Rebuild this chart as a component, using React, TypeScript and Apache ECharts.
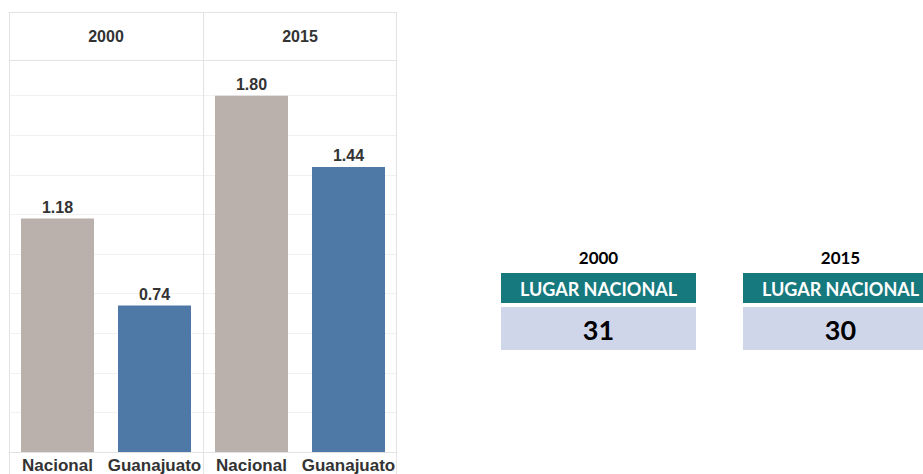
import React, { useEffect, useRef } from "react";
import * as echarts from "echarts";

const years = ["2000", "2015"];
const categories = ["Nacional", "Guanajuato"];
const values2000 = [1.18, 0.74];
const values2015 = [1.8, 1.44];
const rankLabel = "LUGAR NACIONAL";
const ranks = [31, 30];

const barColors = ["#bab0ac", "#4e79a7"];
const lineColor = "#e3e3e3";
const teal = "#16797d";
const lavender = "#d0d6ea";

export default function App() {
  const ref = useRef<HTMLDivElement>(null);
  useEffect(() => {
    if (!ref.current) return;
    const chart = echarts.init(ref.current, null, { renderer: "svg" });
    const panelLeft = [9, 203];
    const panelWidth = 194;
    const seriesVals = [values2000, values2015];

    const grids = panelLeft.map((l) => ({ left: l, width: panelWidth, top: 60, bottom: 21 }));
    const xAxes = panelLeft.map((_, i) => ({
      type: "category",
      gridIndex: i,
      data: categories,
      axisTick: { show: false },
      axisLine: { show: true, lineStyle: { color: lineColor } },
      axisLabel: {
        interval: 0,
        hideOverlap: false,
        margin: 5,
        fontFamily: "Liberation Sans",
        fontWeight: "bold",
        fontSize: 17,
        color: "#333",
      },
    }));
    const yAxes = panelLeft.map((_, i) => ({
      type: "value",
      gridIndex: i,
      min: 0,
      max: 1.98,
      interval: 0.2,
      axisLabel: { show: false },
      axisLine: { show: false },
      axisTick: { show: false },
      splitLine: { lineStyle: { color: "#f1f1f1" } },
    }));
    const series = seriesVals.map((vals, i) => ({
      type: "bar",
      xAxisIndex: i,
      yAxisIndex: i,
      barWidth: 73,
      data: vals.map((v, j) => ({ value: v, itemStyle: { color: barColors[j] } })),
      label: {
        show: true,
        position: "top",
        distance: 3,
        formatter: (p: any) => p.value.toFixed(2),
        fontFamily: "Liberation Sans",
        fontWeight: "bold",
        fontSize: 16,
        color: "#333",
      },
    }));

    const graphic: any[] = [];
    [9, 203, 396].forEach((x) => {
      graphic.push({ type: "line", shape: { x1: x + 0.5, y1: 12, x2: x + 0.5, y2: 474 }, style: { stroke: lineColor, lineWidth: 1 }, z: 10 });
    });
    [12, 60].forEach((y) => {
      graphic.push({ type: "line", shape: { x1: 9, y1: y + 0.5, x2: 397, y2: y + 0.5 }, style: { stroke: lineColor, lineWidth: 1 }, z: 10 });
    });
    years.forEach((yr, i) => {
      graphic.push({
        type: "text",
        x: panelLeft[i] + panelWidth / 2,
        y: 36,
        style: { text: yr, font: "bold 16px 'Liberation Sans'", fill: "#333", textAlign: "center", textVerticalAlign: "middle" },
      });
    });
    const boxX = [501, 743];
    const boxW = 195;
    years.forEach((yr, i) => {
      const cx = boxX[i] + boxW / 2;
      graphic.push({
        type: "text",
        x: cx,
        y: 257,
        style: { text: yr, font: "bold 17px Lato", fill: "#000", textAlign: "center", textVerticalAlign: "middle" },
      });
      graphic.push({ type: "rect", shape: { x: boxX[i], y: 273, width: boxW, height: 30 }, style: { fill: teal } });
      graphic.push({
        type: "text",
        x: cx,
        y: 289,
        style: { text: rankLabel, font: "bold 18px Lato", fill: "#fff", textAlign: "center", textVerticalAlign: "middle" },
      });
      graphic.push({ type: "rect", shape: { x: boxX[i], y: 307, width: boxW, height: 43 }, style: { fill: lavender } });
      graphic.push({
        type: "text",
        x: cx,
        y: 329,
        style: { text: String(ranks[i]), font: "bold 27px Lato", fill: "#000", textAlign: "center", textVerticalAlign: "middle" },
      });
    });

    chart.setOption({
      animation: false,
      grid: grids,
      xAxis: xAxes,
      yAxis: yAxes,
      series,
      graphic,
    } as any);
    return () => chart.dispose();
  }, []);
  return (
    <div
      ref={ref}
      style={{ position: "fixed", left: 0, top: 0, width: 923, height: 474, background: "#fff" }}
    />
  );
}
